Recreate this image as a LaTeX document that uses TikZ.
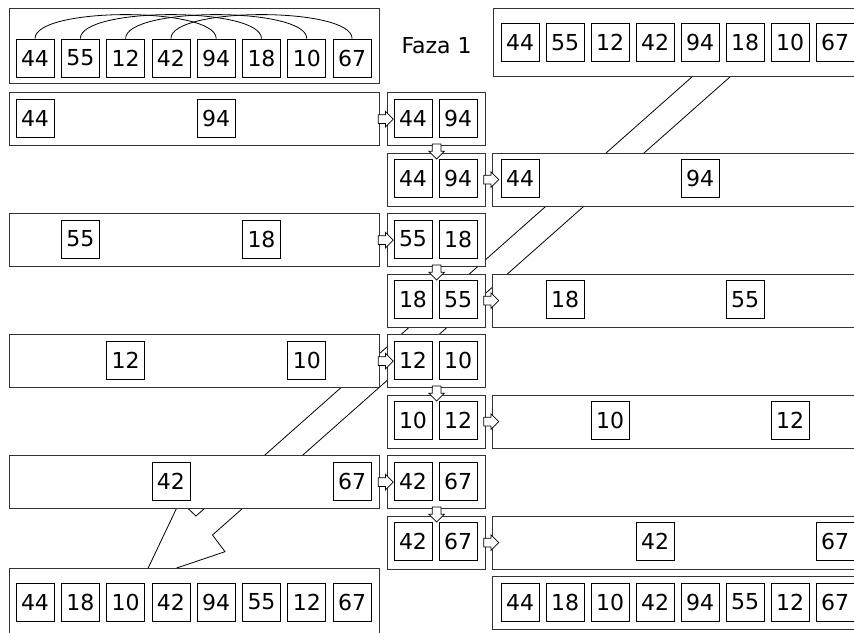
\documentclass[tikz,border=0pt]{standalone}
\usepackage{fontspec}
\setmainfont{DejaVu Sans}
\usetikzlibrary{shapes.arrows}
\usetikzlibrary{calc}

\begin{document}
\begin{tikzpicture}[x=1pt, y=-1pt,
    cell/.style={draw, line width=0.8pt, fill=white, minimum size=38pt, inner sep=0pt, font=\fontsize{22}{26}\selectfont},
    frame/.style={draw=black!80, line width=1.2pt, fill=white, inner sep=0pt, anchor=north west},
    move/.style={single arrow, draw, line width=0.7pt, fill=white, inner sep=4pt,
      minimum height=15pt, single arrow head extend=3.5pt, single arrow head indent=0pt}]

  \useasboundingbox (0,0) rectangle (854,632);
  \clip (0,0) rectangle (854,632);

  \def\lpitch{45.3} % cell spacing, left column
  \def\rpitch{45}   % cell spacing, right column
  \def\rowgap{60.5} % row spacing

  % big hollow arrow behind the boxes
  \draw[line width=0.8pt] (737.8,70) -- (212.5,535) -- (225,551.7) -- (142.7,579.5)
    -- (180,501) -- (196,516) -- (699.8,70) -- cycle;

  % input arrays
  \node[frame, minimum width=370pt, minimum height=75pt] (srcL) at (9,8) {};
  \node[frame, minimum width=400pt, minimum height=68pt] (srcR) at (493,8) {};
  \foreach \v [count=\k from 0] in {44,55,12,42,94,18,10,67} {
    \node[cell] (s\k) at (35+\lpitch*\k, 58) {\v};
    \node[cell] (r\k) at (520+\rpitch*\k, 42.5) {\v};
  }
  \foreach \i in {0,...,3} {
    \pgfmathtruncatemacro\j{\i+4}
    \draw[line width=0.8pt] (s\i.north) .. controls +(0,-32) and +(0,-32) .. (s\j.north);
  }

  \node[anchor=base west, font=\fontsize{22}{26}\selectfont] (phase) at (398,53) {Faza 1};

  % compare and swap rows
  \foreach \a/\b/\c/\d [count=\m from 0] in {44/94/44/94, 55/18/18/55, 12/10/10/12, 42/67/42/67} {
    \pgfmathsetmacro\topA{92+2*\rowgap*\m}
    \pgfmathsetmacro\topB{\topA+\rowgap}
    \pgfmathtruncatemacro\n{\m+4}

    \node[frame, minimum width=370pt, minimum height=53pt] (Lrow\m) at (9,\topA) {};
    \node[cell] (la\m) at (35+\lpitch*\m, \topA+26) {\a};
    \node[cell] (lb\m) at (35+\lpitch*\n, \topA+26) {\b};

    \node[frame, minimum width=98pt, minimum height=53pt] (Pa\m) at (387,\topA) {};
    \node[cell] (pa\m) at (413, \topA+26) {\a};
    \node[cell] (pb\m) at (458, \topA+26) {\b};

    \node[frame, minimum width=98pt, minimum height=53pt] (Pb\m) at (387,\topB) {};
    \node[cell] (qa\m) at (413, \topB+26) {\c};
    \node[cell] (qb\m) at (458, \topB+26) {\d};

    \node[frame, minimum width=400pt, minimum height=53pt] (Rrow\m) at (492,\topB) {};
    \node[cell] (ra\m) at (520+\rpitch*\m, \topB+26) {\c};
    \node[cell] (rb\m) at (520+\rpitch*\n, \topB+26) {\d};

    \node[move] (in\m) at ($(Lrow\m.east)!0.5!(Pa\m.west)$) {};
    \node[move, shape border rotate=270] (dn\m) at ($(Pa\m.south)!0.5!(Pb\m.north)$) {};
    \node[move] (out\m) at ($(Pb\m.east)!0.5!(Rrow\m.west)$) {};
  }

  % result arrays
  \node[frame, minimum width=370pt, minimum height=80pt] (dstL) at (9,568) {};
  \node[frame, minimum width=400pt, minimum height=53pt] (dstR) at (492,576) {};
  \foreach \v [count=\k from 0] in {44,18,10,42,94,55,12,67} {
    \node[cell] (d\k) at (35+\lpitch*\k, 602) {\v};
    \node[cell] (e\k) at (520+\rpitch*\k, 602) {\v};
  }
\end{tikzpicture}
\end{document}
